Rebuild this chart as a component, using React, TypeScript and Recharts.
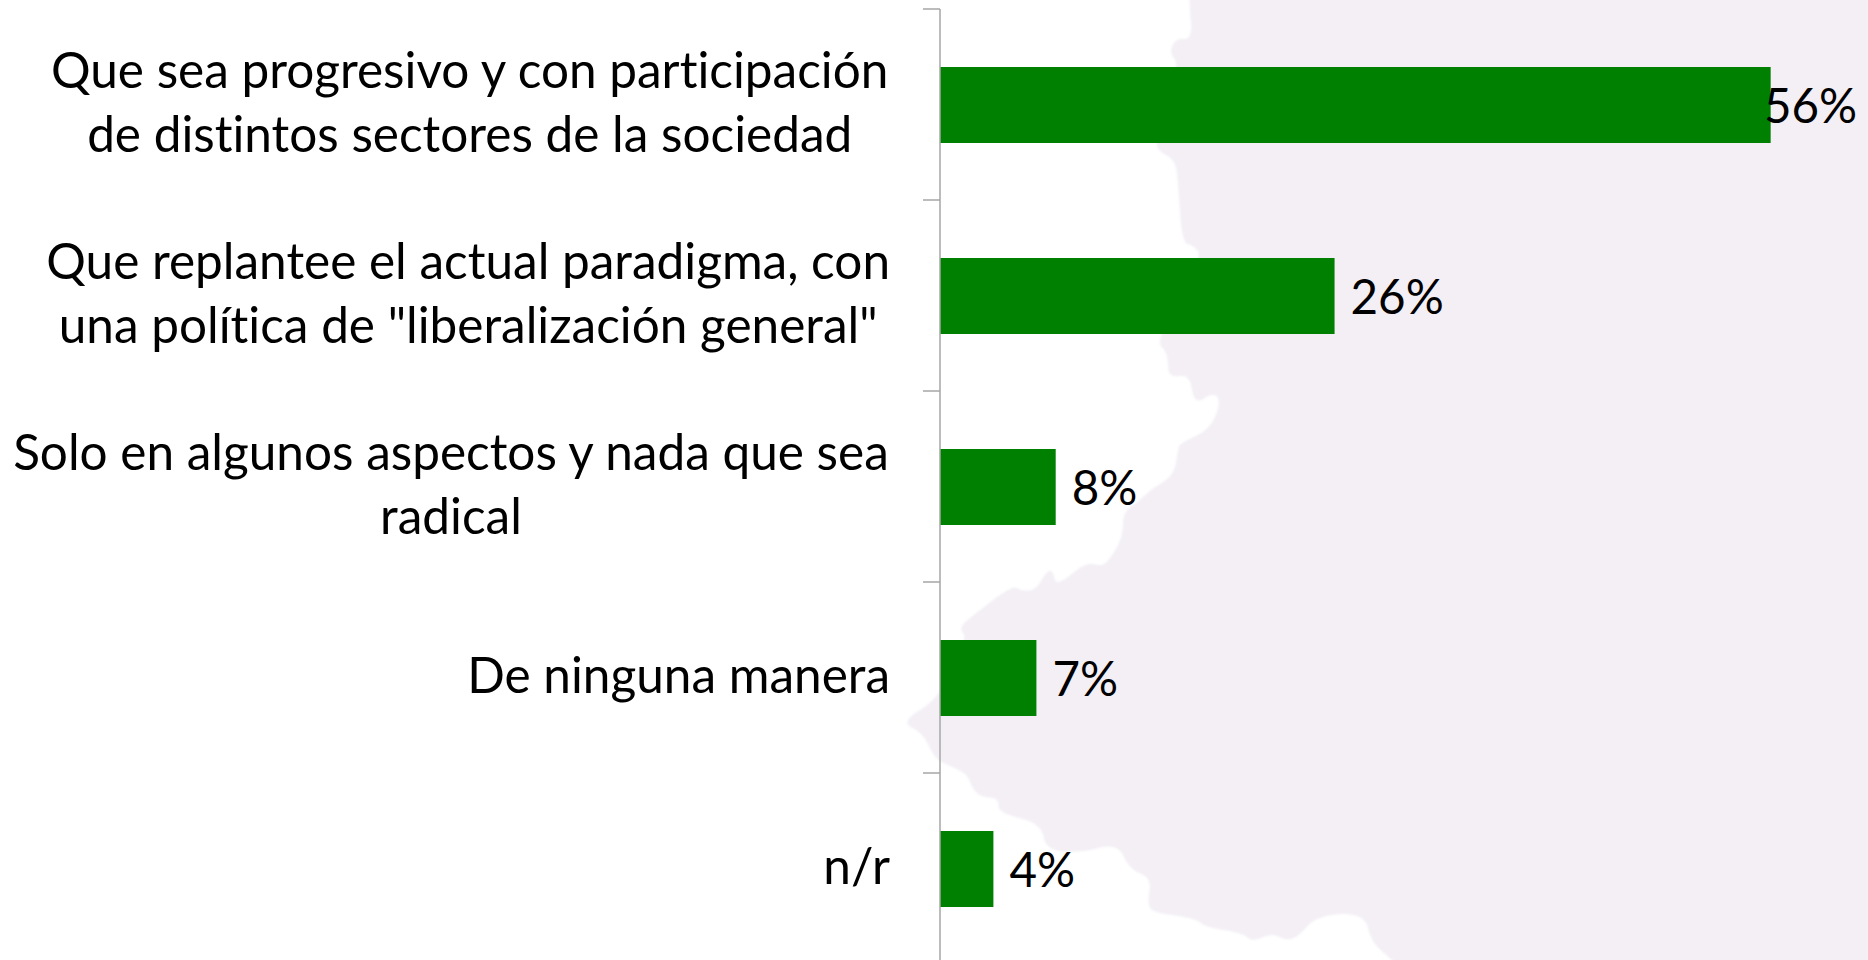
import { Bar, BarChart, LabelList, XAxis, YAxis } from 'recharts'

const categories = [
  'Que sea progresivo y con participación|de distintos sectores de la sociedad',
  'Que replantee el actual paradigma, con|una política de "liberalización general"',
  'Solo en algunos aspectos y nada que sea|radical',
  'De ninguna manera',
  'n/r',
]
const barValues = [56, 26.6, 7.8, 6.5, 3.6]
const valueLabels = ['56%', '26%', '8%', '7%', '4%']

// background map silhouette, decoration only (not data)
const mapOutline = [
  [1189, -20], [1190, 15], [1192, 30], [1188, 40], [1176, 38], [1169, 53], [1180, 65], [1155, 143], [1160, 152], [1175, 160],
  [1178, 180], [1182, 243], [1193, 245], [1203, 257], [1155, 340], [1168, 353], [1168, 378], [1190, 374],
  [1194, 405], [1214, 392], [1221, 402], [1210, 430], [1180, 443], [1178, 450], [1175, 470], [1167, 480],
  [1150, 490], [1137, 503], [1123, 512], [1123, 538], [1106, 565], [1097, 565], [1085, 563], [1056, 587],
  [1053, 570], [1046, 572], [1036, 590], [1021, 591], [1013, 585], [976, 613], [958, 628], [968, 638],
  [940, 698], [900, 722], [923, 733], [932, 753], [940, 762], [967, 773], [972, 788], [981, 797], [999, 798],
  [998, 813], [1041, 823], [1046, 850], [1079, 853], [1118, 843], [1129, 869], [1152, 878], [1147, 905],
  [1155, 913], [1195, 918], [1205, 927], [1243, 933], [1252, 942], [1272, 933], [1285, 940], [1297, 938],
  [1317, 915], [1365, 913], [1371, 943], [1396, 962], [1420, 1000], [4000, 3000], [4000, -2000],
]

const data = categories.map((name, i) => ({ name, value: barValues[i], label: valueLabels[i] }))

const WIDTH = 1868
const HEIGHT = 970
const BAND = 191
const LINE_GAP = 64.5
const CATEGORY_FONT = '49.5px Lato'
const VALUE_FONT = '47.5px Lato'
const AXIS_GREY = '#a6a6a6'

const measure = document.createElement('canvas').getContext('2d')!

const textWidth = (text: string) => {
  measure.font = CATEGORY_FONT
  measure.fontVariantLigatures = 'none'
  return measure.measureText(text).width
}

// rounds the traced outline by curving through the midpoints
const smoothPath = (pts: number[][]) => {
  const mid = (a: number[], b: number[]) => `${(a[0] + b[0]) / 2},${(a[1] + b[1]) / 2}`
  let d = `M${mid(pts[pts.length - 1], pts[0])}`
  pts.forEach((p, i) => {
    d += ` Q${p[0]},${p[1]} ${mid(p, pts[(i + 1) % pts.length])}`
  })
  return d + 'Z'
}

const CategoryTick = ({ x, y, payload }: any) => {
  const lines: string[] = String(payload.value).split('|')
  const blockWidth = Math.max(...lines.map(textWidth))
  const centerX = x - 50 - blockWidth / 2
  const firstBaseline = y + 15.5 - ((lines.length - 1) * LINE_GAP) / 2

  return (
    <g>
      <line x1={x - 17} x2={x} y1={y - BAND / 2} y2={y - BAND / 2} stroke={AXIS_GREY} strokeWidth={1.5} />
      <text x={centerX} y={firstBaseline} textAnchor="middle" fill="#000" style={{ font: CATEGORY_FONT, fontVariantLigatures: 'none' }}>
        {lines.map((line, i) => (
          <tspan key={line} x={centerX} y={firstBaseline + i * LINE_GAP}>
            {line}
          </tspan>
        ))}
      </text>
    </g>
  )
}

const ValueLabel = ({ x, y, width, height, value }: any) => {
  // the longest bar's label gets pushed back over the bar end, as in the original
  const labelX = Math.min(x + width + 16, 1764)
  return (
    <text x={labelX} y={y + height / 2 + 18} fill="#000" style={{ font: VALUE_FONT }}>
      {value}
    </text>
  )
}

export default function App() {
  return (
    <div style={{ position: 'fixed', left: 0, top: 0, width: WIDTH, height: 960, overflow: 'hidden', background: '#fff' }}>
      <svg width={WIDTH} height={960} style={{ position: 'absolute', left: 0, top: 0 }}>
        <path d={smoothPath(mapOutline)} fill="#f3eff5" style={{ filter: 'blur(0.8px)' }} />
      </svg>
      <div style={{ position: 'absolute', left: 0, top: 0 }}>
        <BarChart
          width={WIDTH}
          height={HEIGHT}
          data={data}
          layout="vertical"
          margin={{ top: 9, right: 38, bottom: 6, left: 0 }}
          barSize={76}
        >
          <XAxis type="number" domain={[0, 60]} hide />
          <YAxis
            type="category"
            dataKey="name"
            width={940}
            interval={0}
            tickSize={0}
            tickMargin={0}
            tickLine={false}
            axisLine={{ stroke: AXIS_GREY, strokeWidth: 1.5 }}
            tick={<CategoryTick />}
          />
          <Bar dataKey="value" fill="#008000" isAnimationActive={false}>
            <LabelList dataKey="label" content={<ValueLabel />} />
          </Bar>
        </BarChart>
      </div>
    </div>
  )
}
